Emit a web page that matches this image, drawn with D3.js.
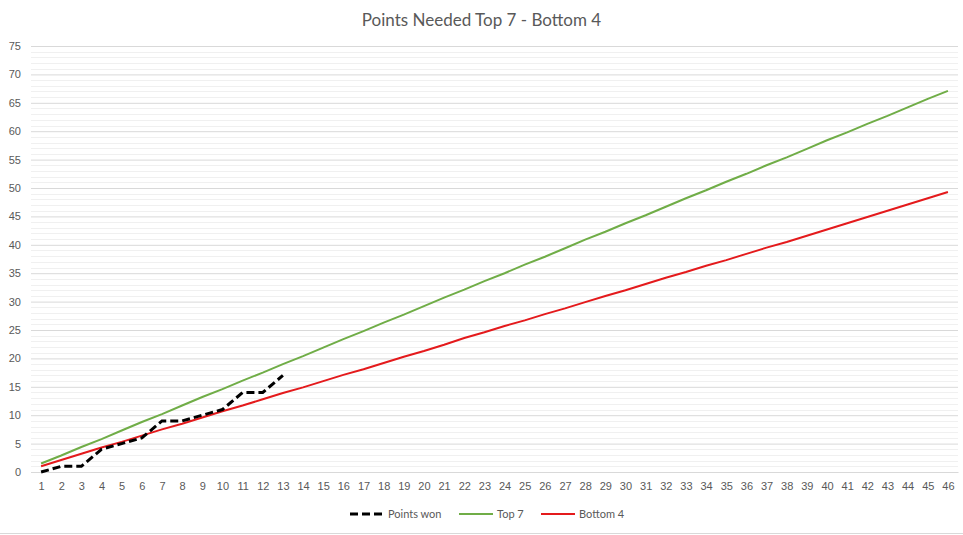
<!DOCTYPE html>
<html>
<head>
<meta charset="utf-8">
<script src="https://cdn.jsdelivr.net/npm/d3@7"></script>
<style>
  html, body { margin: 0; padding: 0; background: #fff; }
  svg { display: block; font-family: Lato, "Open Sans", sans-serif; }
</style>
</head>
<body>
<div id="chart"></div>
<script>
// data
const games = d3.range(1, 47);
const pointsWon = [0, 1, 1, 4, 5, 6, 9, 9, 10, 11, 14, 14, 17];
const top7 = [
  1.5, 2.9, 4.4, 5.8, 7.3, 8.8, 10.2, 11.7, 13.2, 14.6,
  16.1, 17.5, 19.0, 20.4, 21.9, 23.4, 24.8, 26.3, 27.7, 29.2,
  30.7, 32.1, 33.6, 35.0, 36.5, 37.9, 39.4, 40.9, 42.3, 43.8,
  45.2, 46.7, 48.2, 49.6, 51.1, 52.5, 54.0, 55.4, 56.9, 58.4,
  59.8, 61.3, 62.7, 64.2, 65.7, 67.1
];
const bottom4 = [
  1.0, 2.1, 3.2, 4.3, 5.3, 6.4, 7.5, 8.5, 9.6, 10.7,
  11.7, 12.8, 13.9, 14.9, 16.0, 17.1, 18.1, 19.2, 20.3, 21.3,
  22.4, 23.6, 24.6, 25.7, 26.7, 27.8, 28.8, 29.9, 31.0, 32.0,
  33.1, 34.2, 35.2, 36.3, 37.3, 38.4, 39.5, 40.5, 41.6, 42.7,
  43.8, 44.9, 46.0, 47.1, 48.2, 49.3
];
const yTicks = d3.range(0, 80, 5);

const width = 963, height = 535;
const margin = { top: 46, right: 5, bottom: 62, left: 31 };

const svg = d3.select("#chart").append("svg")
  .attr("width", width)
  .attr("height", height);

// bottom edge of the chart frame
svg.append("line")
  .attr("x1", 0).attr("x2", width)
  .attr("y1", height - 1.5).attr("y2", height - 1.5)
  .attr("stroke", "#d9d9d9");

const x = d3.scalePoint()
  .domain(games)
  .range([margin.left, width - margin.right])
  .padding(0.5);

const y = d3.scaleLinear()
  .domain([0, 75])
  .range([height - margin.bottom - 1, margin.top]);

// minor gridlines
svg.append("g")
  .selectAll("line")
  .data(d3.range(0, 76, 1).filter(d => d % 5 !== 0))
  .join("line")
  .attr("x1", margin.left).attr("x2", width - margin.right)
  .attr("y1", d => Math.round(y(d)) + 0.5)
  .attr("y2", d => Math.round(y(d)) + 0.5)
  .attr("stroke", "#f0f0f0");

// y axis with major gridlines
const yAxis = svg.append("g")
  .attr("transform", `translate(${margin.left},0)`)
  .call(d3.axisLeft(y).tickValues(yTicks)
    .tickSize(-(width - margin.left - margin.right))
    .tickPadding(10));
yAxis.select(".domain").remove();
yAxis.selectAll(".tick line").attr("stroke", "#d9d9d9");
yAxis.selectAll(".tick text")
  .style("font-size", "11px")
  .style("fill", "#595959");

// x axis
const xAxis = svg.append("g")
  .attr("transform", `translate(0,${y(0)})`)
  .call(d3.axisBottom(x).tickSize(0).tickPadding(10));
xAxis.select(".domain").attr("stroke", "#d9d9d9");
xAxis.selectAll(".tick text")
  .style("font-size", "11px")
  .style("fill", "#595959");

const line = d3.line()
  .x((d, i) => x(games[i]))
  .y(d => y(d));

svg.append("path")
  .datum(top7)
  .attr("fill", "none")
  .attr("stroke", "#70ad47")
  .attr("stroke-width", 2)
  .attr("d", line);

svg.append("path")
  .datum(bottom4)
  .attr("fill", "none")
  .attr("stroke", "#e41a1c")
  .attr("stroke-width", 2)
  .attr("d", line);

svg.append("path")
  .datum(pointsWon)
  .attr("fill", "none")
  .attr("stroke", "#000")
  .attr("stroke-width", 3)
  .attr("stroke-dasharray", "8,4")
  .attr("d", line);

// title
svg.append("text")
  .attr("x", width / 2)
  .attr("y", 26)
  .attr("text-anchor", "middle")
  .style("font-size", "17px")
  .style("fill", "#595959")
  .text("Points Needed Top 7 - Bottom 4");

// legend
const legendItems = [
  { name: "Points won", color: "#000", width: 3, dash: "8,4", x: 350 },
  { name: "Top 7", color: "#70ad47", width: 2, dash: null, x: 459 },
  { name: "Bottom 4", color: "#e41a1c", width: 2, dash: null, x: 541 }
];
const legend = svg.append("g").attr("transform", "translate(0,514)");
legendItems.forEach(item => {
  const g = legend.append("g").attr("transform", `translate(${item.x},0)`);
  g.append("line")
    .attr("x1", 0).attr("x2", 34)
    .attr("stroke", item.color)
    .attr("stroke-width", item.width)
    .attr("stroke-dasharray", item.dash);
  g.append("text")
    .attr("x", 38).attr("y", 4)
    .style("font-size", "11px")
    .style("fill", "#595959")
    .text(item.name);
});
</script>
</body>
</html>
